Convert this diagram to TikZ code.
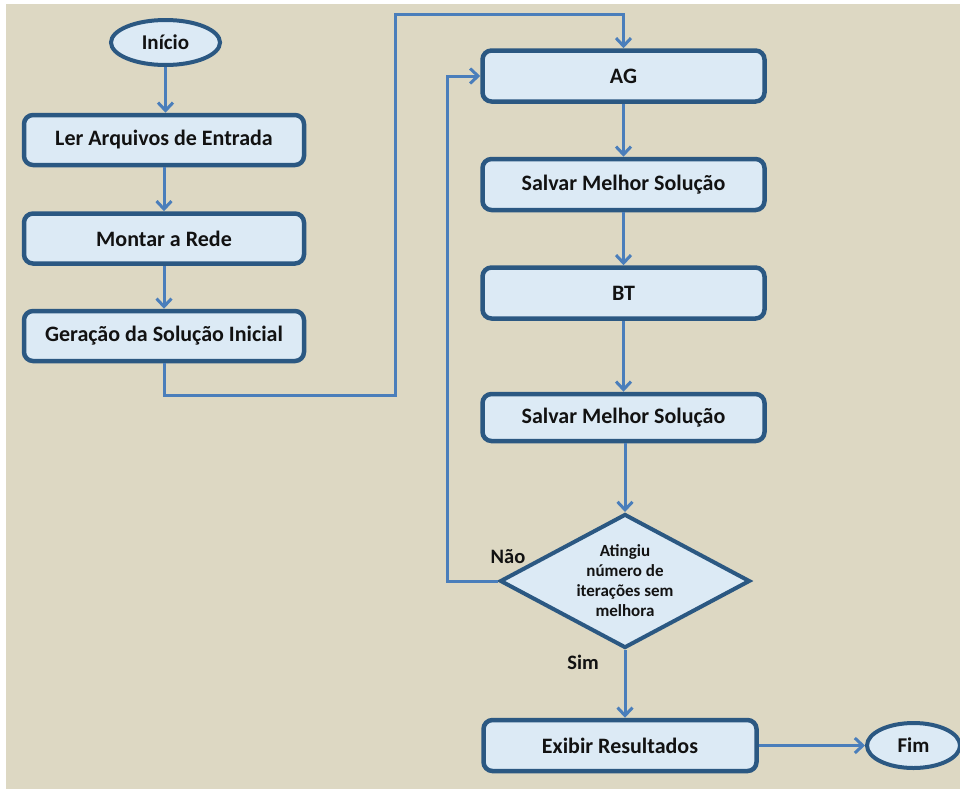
\documentclass[tikz,border=0pt]{standalone}
\usepackage{fontspec}
\setmainfont{Carlito}
\usetikzlibrary{shapes.geometric,arrows.meta}
\definecolor{bgbeige}{HTML}{DDD8C3}
\definecolor{boxfill}{HTML}{DCEAF5}
\definecolor{boxborder}{HTML}{2B5882}
\definecolor{arrowblue}{HTML}{4A7EBB}
\definecolor{txt}{HTML}{121212}
\tikzset{
  stepbox/.style={draw=boxborder, fill=boxfill, line width=4.5pt, rounded corners=9pt,
    minimum width=280pt, minimum height=50pt, inner sep=0pt, text=txt,
    font=\bfseries\fontsize{22}{24}\selectfont},
  termbox/.style={ellipse, draw=boxborder, fill=boxfill, line width=4pt,
    minimum width=109pt, minimum height=45pt, inner sep=0pt, text=txt,
    font=\bfseries\fontsize{21}{24}\selectfont},
  decbox/.style={diamond, draw=boxborder, fill=boxfill, line width=4pt,
    minimum width=250pt, minimum height=134pt, aspect=1.87, inner sep=0pt, text=txt,
    align=center, font=\bfseries\fontsize{17}{20}\selectfont},
  conn/.style={draw=arrowblue, line width=3pt, -{Straight Barb[length=8pt,width=15pt]}},
  lbl/.style={text=txt, font=\bfseries\fontsize{20.5}{24}\selectfont, inner sep=0pt}
}
\begin{document}
\begin{tikzpicture}[x=1pt,y=-1pt]
\useasboundingbox (0,0) rectangle (960,790);
\fill[white] (0,0) rectangle (960,790);
\fill[bgbeige] (6,4) rectangle (960,789);

\node[termbox] (inicio) at (165.5,42.5) {Início};
\node[stepbox] (ler) at (164,140) {Ler Arquivos de Entrada};
\node[stepbox] (montar) at (164,238.5) {Montar a Rede};
\node[stepbox] (geracao) at (164,336) {Geração da Solução Inicial};

\node[stepbox, minimum width=282pt, minimum height=51pt] (ag) at (623.5,76) {AG};
\node[stepbox, minimum width=282pt, minimum height=51pt] (s1) at (623.5,184.5) {Salvar Melhor Solução};
\node[stepbox, minimum width=282pt, minimum height=51pt] (bt) at (623.5,293) {BT};
\node[stepbox, minimum width=282pt, minimum height=47pt] (s2) at (623.5,417.5) {Salvar Melhor Solução};

\node[decbox] (dia) at (625,581) {Atingiu\\número de\\iterações sem\\melhora};

\node[stepbox, minimum width=273pt, minimum height=51pt] (ex) at (620,745.5) {Exibir Resultados};
\node[termbox, minimum width=93pt] (fim) at (913.5,745.5) {Fim};

\node[lbl] (nao) at (508,557) {Não};
\node[lbl] (sim) at (583,662) {Sim};

\coordinate (c1) at (164,395);
\coordinate (c2) at (395,395);
\coordinate (c3) at (395,14);
\coordinate (f1) at (447,581);

\draw[conn] (inicio.south) -- (inicio.south |- ler.north);
\draw[conn] (ler.south) -- (montar.north);
\draw[conn] (montar.south) -- (geracao.north);
\draw[conn] (geracao.south) -- (c1) -- (c2) -- (c3) -| (ag.north);
\draw[conn] (ag.south) -- (s1.north);
\draw[conn] (s1.south) -- (bt.north);
\draw[conn] (bt.south) -- (s2.north);
\draw[conn] (s2.south -| dia.north) -- (dia.north);
\draw[conn] (dia.west) -- (f1) |- (ag.west);
\draw[conn] (dia.south) -- (dia.south |- ex.north);
\draw[conn] (ex.east) -- (fim.west);
\end{tikzpicture}
\end{document}
